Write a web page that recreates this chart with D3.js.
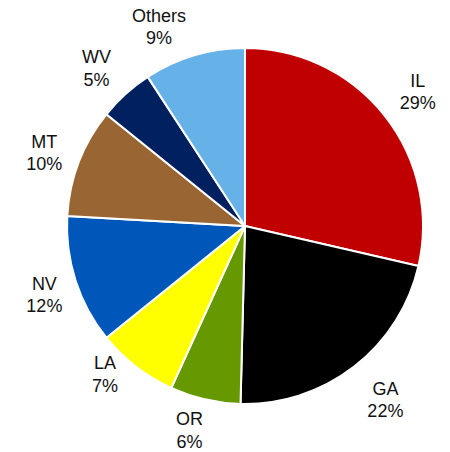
<!DOCTYPE html>
<html>
<head>
<meta charset="utf-8">
<script src="https://cdn.jsdelivr.net/npm/d3@7"></script>
<style>
  html, body { margin: 0; padding: 0; background: #fff; }
  svg text { font-family: "Liberation Sans", Arial, sans-serif; font-size: 18px; fill: #111; }
</style>
</head>
<body>
<div id="chart"></div>
<script>
'use strict';

var states = ['IL', 'GA', 'OR', 'LA', 'NV', 'MT', 'WV', 'Others'];
var shares = [28.6, 21.8, 6.4, 7.4, 11.7, 9.9, 5.0, 9.2];
var colors = ['#C00000', '#000000', '#669900', '#FFFF00', '#0057BA', '#996633', '#002060', '#66B2E8'];

var width = 450,
    height = 452,
    cx = 245,
    cy = 226,
    radius = 178;

// small hand nudges where the original moved labels (best fit)
var nudge = {
  'IL': [4.5, -1.5], 'GA': [8, 2.4], 'OR': [-7.4, -5.2], 'LA': [-7.7, -23.3],
  'NV': [-0.7, 3.7], 'MT': [-3.8, 1.7], 'WV': [-3.7, 1.5], 'Others': [-24, 8.2]
};

var data = states.map(function (s, i) {
  return { state: s, value: shares[i], color: colors[i] };
});

var svg = d3.select('#chart').append('svg')
    .attr('width', width)
    .attr('height', height);

var g = svg.append('g')
    .attr('transform', 'translate(' + cx + ',' + cy + ')');

var pie = d3.pie()
    .sort(null)
    .value(function (d) { return d.value; });

var arc = d3.arc()
    .innerRadius(0)
    .outerRadius(radius);

var arcs = pie(data);

g.selectAll('path.slice')
  .data(arcs)
  .enter().append('path')
    .attr('class', 'slice')
    .attr('d', arc)
    .attr('fill', function (d) { return d.data.color; })
    .attr('stroke', '#fff')
    .attr('stroke-width', 2);

var lineH = 22;

function labelPos(d) {
  var a = (d.startAngle + d.endAngle) / 2,
      ux = Math.sin(a),
      uy = -Math.cos(a),
      txt = d.data.state.length > 3 ? d.data.state : '00%',
      hw = Math.max(txt.length, 3) * 5.2,
      hh = lineH,
      t = radius;
  // push the label box out until its nearest corner clears the pie
  for (; t < 320; t += 0.5) {
    var x = t * ux, y = t * uy;
    var nx = x - Math.sign(x) * Math.min(hw, Math.abs(x)),
        ny = y - Math.sign(y) * Math.min(hh, Math.abs(y));
    if (Math.sqrt(nx * nx + ny * ny) >= radius + 11) break;
  }
  var n = nudge[d.data.state] || [0, 0];
  return [t * ux + n[0], t * uy + n[1]];
}

var labels = g.selectAll('text.lbl')
  .data(arcs)
  .enter().append('text')
    .attr('class', 'lbl')
    .attr('text-anchor', 'middle')
    .attr('transform', function (d) {
      var p = labelPos(d);
      return 'translate(' + p[0] + ',' + p[1] + ')';
    });

labels.append('tspan')
    .attr('x', 0)
    .attr('y', -4)
    .text(function (d) { return d.data.state; });

labels.append('tspan')
    .attr('x', 0)
    .attr('y', 18.3)
    .text(function (d) { return Math.round(d.data.value) + '%'; });
</script>
</body>
</html>
